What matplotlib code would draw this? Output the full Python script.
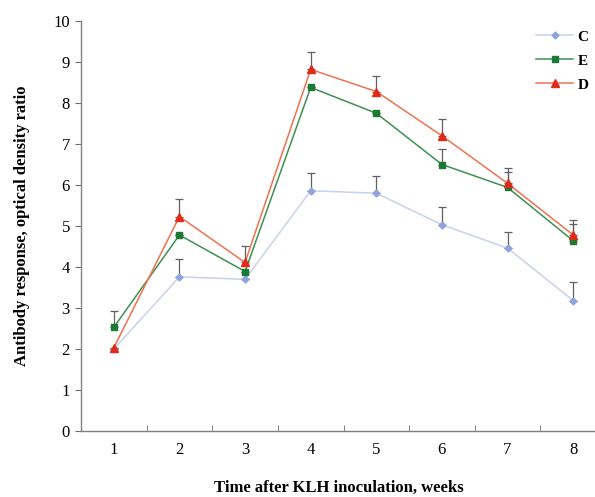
import matplotlib.pyplot as plt
import numpy as np

plt.rcParams['font.family'] = ['Liberation Serif', 'DejaVu Serif']

weeks = [1, 2, 3, 4, 5, 6, 7, 8]

# group means
c_mean = [2.0, 3.76, 3.70, 5.86, 5.80, 5.03, 4.46, 3.18]
e_mean = [2.53, 4.78, 3.89, 8.38, 7.75, 6.50, 5.94, 4.64]
d_mean = [2.03, 5.23, 4.11, 8.82, 8.28, 7.20, 6.04, 4.78]

# upper error bars only
c_err = [0.0, 0.43, 0.0, 0.44, 0.43, 0.43, 0.40, 0.45]
e_err = [0.40, 0.0, 0.0, 0.0, 0.0, 0.39, 0.38, 0.42]
d_err = [0.0, 0.42, 0.40, 0.43, 0.39, 0.40, 0.38, 0.36]

fig = plt.figure(figsize=(5.95, 4.97), dpi=100)
ax = fig.add_axes([81/595, 1 - 431/497, (606 - 81)/595, (431 - 21)/497])

series = [
    ('C', c_mean, c_err, '#c9d1ec', '#8fa3dc', 'D', 3.5),
    ('E', e_mean, e_err, '#3f8f55', '#1a7a36', 's', 5),
    ('D', d_mean, d_err, '#ec7350', '#e02a1a', '^', 5.5),
]

for name, mean, err, lc, mc, mk, ms in series:
    ax.errorbar(weeks, mean, yerr=[np.zeros(len(err)), err], fmt='none',
                ecolor='#606060', elinewidth=0.9, capsize=3, capthick=0.9, zorder=2)
    ax.plot(weeks, mean, color=lc, lw=1.1, marker=mk, markersize=ms,
            markerfacecolor=mc, markeredgecolor=mc, label=name, zorder=3)

ax.set_xlim(0.5, 8.5)
ax.set_ylim(0, 10)
ax.set_yticks(range(0, 11))
ax.set_xticks(weeks)
ax.set_xticks(np.arange(1.5, 8.5, 1), minor=True)
ax.tick_params(axis='x', which='major', length=0, labelsize=12, pad=8)
ax.tick_params(axis='x', which='minor', direction='in', length=4, color='#707070')
ax.tick_params(axis='y', length=4, color='#707070', labelsize=12, pad=4)

for s in ['top', 'right']:
    ax.spines[s].set_visible(False)
for s in ['left', 'bottom']:
    ax.spines[s].set_color('#808080')
    ax.spines[s].set_linewidth(1.0)

ax.set_ylabel('Antibody response, optical density ratio', fontsize=12, fontweight='bold', labelpad=17)
fig.text(339/595, 1 - 488/497, 'Time after KLH inoculation, weeks', fontsize=12,
         fontweight='bold', ha='center', va='center')

leg = ax.legend(loc='upper right', bbox_to_anchor=(0.993, 1.012), frameon=False,
                prop={'size': 11, 'weight': 'bold'}, handlelength=2.4,
                handletextpad=0.3, labelspacing=0.68)

fig.savefig('out.png', dpi=100)
